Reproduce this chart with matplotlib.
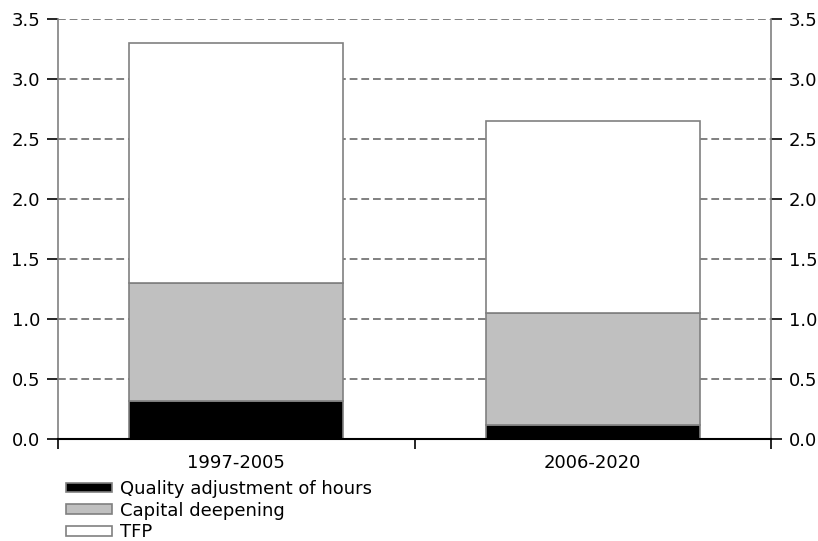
import matplotlib.pyplot as plt
from matplotlib.patches import Patch

periods = ['1997-2005', '2006-2020']
quality = [0.32, 0.12]
capital = [0.98, 0.93]
tfp = [2.00, 1.60]

fig = plt.figure(figsize=(8.18, 5.41), dpi=100)
ax = fig.add_axes([58 / 818, 1 - 439 / 541, 713 / 818, 420 / 541])

x = range(len(periods))
edge = '#808080'
ax.bar(x, quality, width=0.6, color='black', edgecolor=edge, linewidth=1.2, zorder=3)
ax.bar(x, capital, width=0.6, bottom=quality, color='#c0c0c0', edgecolor=edge, linewidth=1.2, zorder=3)
bottom2 = [q + c for q, c in zip(quality, capital)]
ax.bar(x, tfp, width=0.6, bottom=bottom2, color='white', edgecolor=edge, linewidth=1.2, zorder=3)

ax.set_xlim(-0.5, 1.5)
ax.set_ylim(0, 3.5)
yt = [i * 0.5 for i in range(8)]
ax.set_yticks(yt)
ax.set_yticklabels([f'{v:.1f}' for v in yt])
ax.yaxis.grid(True, linestyle=(0, (4, 2)), color='#808080', linewidth=1.4, zorder=0)
ax.set_axisbelow(True)

ax.set_xticks(x)
ax.set_xticklabels(periods)
ax.set_xticks([-0.5, 0.5, 1.5], minor=True)
ax.tick_params(axis='x', which='major', length=0, pad=11, labelsize=13)
ax.tick_params(axis='x', which='minor', length=7, width=1.2, direction='out', color='black')
ax.tick_params(axis='y', which='both', length=8, width=1.2, direction='out', color='black',
               labelsize=13, pad=5, left=True, right=True, labelleft=True, labelright=True)

ax.spines['top'].set_visible(False)
ax.spines['left'].set_color(edge)
ax.spines['right'].set_color(edge)
ax.spines['left'].set_linewidth(1.2)
ax.spines['right'].set_linewidth(1.2)
ax.spines['bottom'].set_color('black')
ax.spines['bottom'].set_linewidth(1.5)
ax.spines['bottom'].set_zorder(4)

handles = [Patch(facecolor='black', edgecolor=edge, linewidth=1.2, label='Quality adjustment of hours'),
           Patch(facecolor='#c0c0c0', edgecolor=edge, linewidth=1.2, label='Capital deepening'),
           Patch(facecolor='white', edgecolor=edge, linewidth=1.2, label='TFP')]
fig.legend(handles=handles, loc='upper left', bbox_to_anchor=(66 / 818, 1 - 480 / 541),
           frameon=False, fontsize=13, handlelength=2.55, handleheight=0.45,
           labelspacing=0.2, handletextpad=0.45, borderaxespad=0, borderpad=0)

fig.savefig('out.png', dpi=100)
